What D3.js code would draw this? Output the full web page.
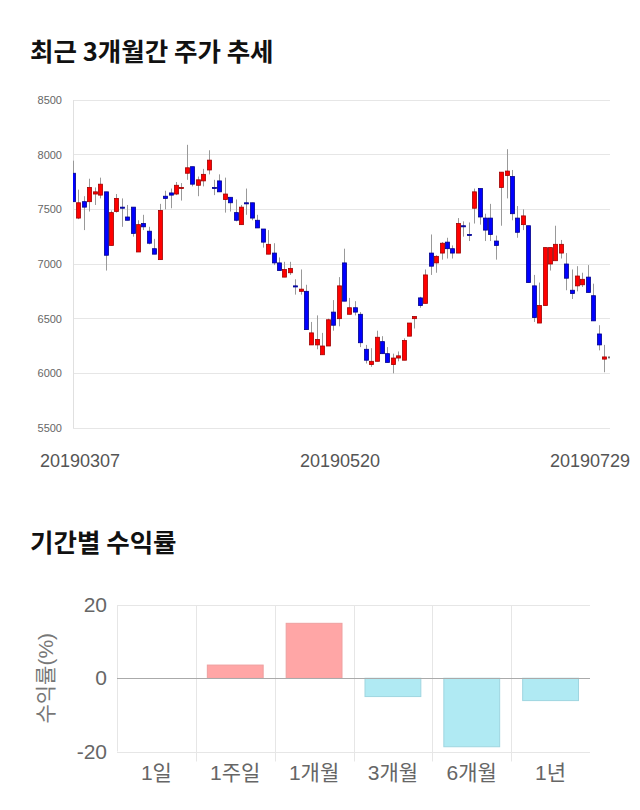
<!DOCTYPE html>
<html><head><meta charset="utf-8">
<script src="https://cdn.jsdelivr.net/npm/d3@7"></script>
<style>
body{margin:0;background:#fff;}
svg{display:block;font-family:"Liberation Sans","Noto Sans CJK KR",sans-serif;}
.title{font-family:"Noto Sans CJK KR",sans-serif;font-weight:700;font-size:25.5px;fill:#111;}
</style></head>
<body>
<svg id="c" width="640" height="810"></svg>
<script>
// ---- candlestick data (20190307 .. 20190729) ----
const openP  = [7830,7420,7570,7570,7640,7630,7660,7170,7480,7520,7430,7520,7110,7370,7300,7140,7040,7620,7650,7640,7690,7830,7890,7720,7760,7860,7700,7760,7590,7610,7470,7360,7560,7560,7400,7320,7090,7100,7010,6880,6920,6800,6750,6750,6260,6260,6170,6250,6560,6500,7010,6540,6600,6540,6220,6080,6110,6290,6180,6080,6140,6120,6340,6500,6690,6640,7100,7010,7100,7200,7140,7100,7350,7270,7510,7690,7420,7420,7210,7700,7810,7800,7420,7360,7350,6800,6460,6620,7000,7030,7100,7000,6760,6800,6810,6880,6710,6360,6130,6150];
const highP  = [7945,7680,7620,7780,7700,7790,7660,7490,7640,7600,7540,7520,7400,7450,7340,7230,7550,7670,7690,7750,7740,8090,7890,7800,7870,8040,7770,7820,7790,7610,7590,7540,7690,7560,7450,7320,7310,7190,7060,7020,7020,6860,6950,6810,6470,6530,6370,6500,6670,6880,7140,6690,6660,6560,6260,6230,6390,6340,6240,6180,6200,6320,6460,6520,6700,6950,7270,7080,7200,7240,7170,7420,7390,7380,7690,7690,7460,7550,7260,7840,8050,7860,7530,7500,7350,6900,6830,7150,7150,7350,7220,7100,6950,6980,6920,6990,6820,6440,6260,6160];
const lowP   = [7570,7410,7310,7480,7540,7600,6940,7170,7470,7340,7400,7250,7110,7310,7180,7090,7040,7500,7510,7630,7580,7770,7710,7620,7710,7820,7630,7660,7470,7480,7390,7360,7450,7400,7330,7150,7090,6990,6940,6880,6900,6720,6720,6400,6260,6220,6170,6250,6390,6430,6660,6540,6530,6240,6090,6060,6110,6180,6100,6000,6110,6120,6340,6410,6600,6640,6900,6920,7040,7050,7050,7100,7250,7210,7370,7360,7210,7210,7040,7350,7600,7400,7240,7310,6830,6470,6460,6620,6940,7030,7050,6760,6680,6750,6790,6740,6480,6210,6010,6140];
const closeP = [7570,7560,7520,7700,7660,7730,7080,7470,7600,7510,7400,7280,7360,7340,7190,7090,7490,7600,7630,7720,7700,7880,7730,7770,7820,7950,7690,7660,7640,7560,7400,7520,7550,7420,7330,7200,7180,7010,6940,6950,6960,6790,6770,6400,6370,6310,6250,6490,6440,6800,6660,6600,6560,6280,6120,6110,6330,6180,6100,6140,6160,6300,6460,6520,6620,6900,6980,7070,7190,7140,7100,7370,7340,7260,7660,7430,7310,7270,7170,7840,7850,7460,7290,7440,6830,6510,6620,7150,7150,7180,7180,6870,6730,6890,6860,6740,6480,6260,6150,6150];
const priceTicks = [5500,6000,6500,7000,7500,8000,8500];
const dateLabels = ["20190307","20190520","20190729"];
const dateLabelIdx = [0,50,99];

// ---- return data ----
const periods = ["1일","1주일","1개월","3개월","6개월","1년"];
const returns = [0,3.6,15.0,-5.0,-18.7,-6.1];
const returnTicks = [-20,0,20];

const svg = d3.select("#c");

// ===== Title 1 =====
svg.append("text").attr("class","title").attr("x",30).attr("y",61).text("최근 3개월간 주가 추세");

// ===== Candlestick =====
const n = openP.length;
const x = d3.scaleLinear().domain([0,n-1]).range([73,609.6]);
const y = d3.scaleLinear().domain([5500,8500]).range([428,100]);
const cL = 73, cR = 610;

const g1 = svg.append("g");
g1.selectAll("line.grid").data(priceTicks).join("line")
  .attr("x1",cL).attr("x2",cR).attr("y1",d=>y(d)).attr("y2",d=>y(d))
  .attr("stroke","#e6e6e6").attr("stroke-width",1).attr("shape-rendering","crispEdges");
g1.append("line").attr("x1",cL).attr("x2",cL).attr("y1",y(8500)).attr("y2",y(5500))
  .attr("stroke","#e0e0e0").attr("stroke-width",1).attr("shape-rendering","crispEdges");
g1.selectAll("text.pt").data(priceTicks).join("text")
  .attr("x",62).attr("y",d=>y(d)+4).attr("text-anchor","end")
  .attr("font-size",11).attr("fill","#666").text(d=>d);

svg.append("clipPath").attr("id","cp").append("rect")
  .attr("x",cL).attr("y",90).attr("width",cR-cL).attr("height",350);
const cg = svg.append("g").attr("clip-path","url(#cp)");
const idx = d3.range(n);
const bw = 4;
cg.selectAll("line.wick").data(idx).join("line")
  .attr("x1",i=>Math.round(x(i))+0.5).attr("x2",i=>Math.round(x(i))+0.5)
  .attr("y1",i=>y(highP[i])).attr("y2",i=>y(lowP[i]))
  .attr("stroke","#999").attr("stroke-width",1);
const col = i => closeP[i]>openP[i] ? "#ff0000" : (closeP[i]<openP[i] ? "#0000ff" : "#888");
const scol = i => closeP[i]>openP[i] ? "#a00000" : (closeP[i]<openP[i] ? "#00008a" : "#666");
cg.selectAll("rect.body").data(idx).join("rect")
  .attr("x",i=>Math.round(x(i))-bw/2+0.5)
  .attr("y",i=>y(Math.max(openP[i],closeP[i])))
  .attr("width",bw)
  .attr("height",i=>Math.max(1,Math.abs(y(openP[i])-y(closeP[i]))))
  .attr("fill",col).attr("stroke",scol).attr("stroke-width",0.8);

// date labels
const dl = svg.append("g");
dl.selectAll("text").data(dateLabels).join("text")
  .attr("y",467).attr("font-size",18).attr("fill","#555").attr("text-anchor","middle")
  .text(d=>d)
  .each(function(d,k){
    const w = this.getComputedTextLength();
    let cx = x(dateLabelIdx[k]);
    cx = Math.max(40 + w/2, Math.min(630 - w/2, cx - 4));
    d3.select(this).attr("x",cx);
  });

// ===== Title 2 =====
svg.append("text").attr("class","title").attr("x",30).attr("y",552).text("기간별 수익률");

// ===== Bar chart =====
const bx = d3.scaleBand().domain(periods).range([117,590]).paddingInner(0).paddingOuter(0);
const by = d3.scaleLinear().domain([-20,20]).range([751.5,605]);
const g2 = svg.append("g");
g2.selectAll("line.hg").data([20,-20]).join("line")
  .attr("x1",117).attr("x2",590).attr("y1",d=>Math.round(by(d))+0.5).attr("y2",d=>Math.round(by(d))+0.5)
  .attr("stroke","#e6e6e6");
g2.selectAll("line.vg").data(periods).join("line")
  .attr("x1",d=>Math.round(bx(d))+0.5).attr("x2",d=>Math.round(bx(d))+0.5)
  .attr("y1",by(20)).attr("y2",(d,i)=> i===0 ? by(-20) : by(-20)+10)
  .attr("stroke","#e6e6e6");
const inset = 11.5;
g2.selectAll("rect.bar").data(returns).join("rect")
  .attr("x",(d,i)=>bx(periods[i])+inset)
  .attr("width",bx.bandwidth()-2*inset)
  .attr("y",d=>by(Math.max(0,d)))
  .attr("height",d=>Math.abs(by(d)-by(0)))
  .attr("fill",d=>d>=0?"#ffa6a6":"#b0eaf3")
  .attr("stroke",d=>d>=0?"#eea0a0":"#9fd6e0").attr("stroke-width",1);
g2.append("line").attr("x1",117).attr("x2",590).attr("y1",Math.round(by(0))+0.5).attr("y2",Math.round(by(0))+0.5)
  .attr("stroke","#aaa");
g2.selectAll("text.rt").data(returnTicks).join("text")
  .attr("x",107).attr("y",d=>by(d)+7).attr("text-anchor","end")
  .attr("font-size",21).attr("fill","#666").text(d=>d);
g2.selectAll("text.cat").data(periods).join("text")
  .attr("x",d=>bx(d)+bx.bandwidth()/2).attr("y",780).attr("text-anchor","middle")
  .attr("font-size",21).attr("fill","#666").text(d=>d);
g2.append("text").attr("transform","translate(53,"+by(0)+") rotate(-90)")
  .attr("text-anchor","middle").attr("font-size",21).attr("fill","#777").text("수익률(%)");
</script>
</body></html>
